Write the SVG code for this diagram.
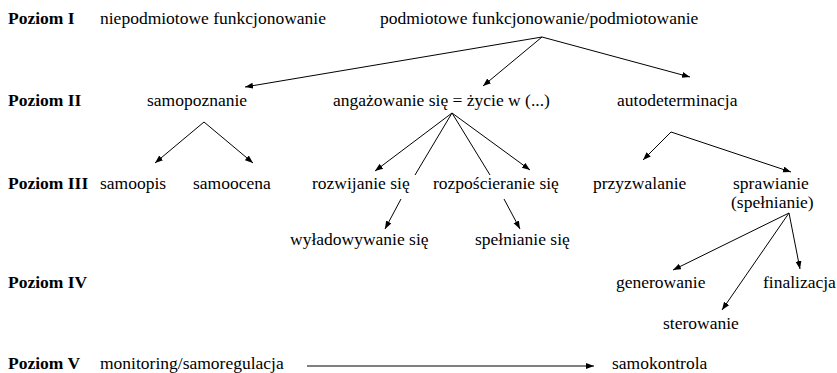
<svg xmlns="http://www.w3.org/2000/svg" width="837" height="373" viewBox="0 0 837 373">
<style>
text{font-family:'Liberation Serif','DejaVu Serif','Times New Roman',serif;font-size:17.5px;fill:#000}
.lvl{font-weight:bold}
.c line{stroke:#000;stroke-width:1;fill:none}
.a{marker-end:url(#ah)}
</style>
<defs>
<marker id="ah" markerUnits="userSpaceOnUse" markerWidth="9" markerHeight="7" refX="8" refY="3" orient="auto">
<path d="M0,0 L8,3 L0,6 z" fill="#000"/>
</marker>
</defs>
<rect width="837" height="373" fill="#fff"/>
<g id="levels" font-family="Liberation Serif, DejaVu Serif, serif">
<text class="lvl" x="8" y="24">Poziom I</text>
<text class="lvl" x="8" y="106">Poziom II</text>
<text class="lvl" x="8" y="189">Poziom III</text>
<text class="lvl" x="8" y="288">Poziom IV</text>
<text class="lvl" x="8" y="369">Poziom V</text>
</g>
<g id="n-niepodmiotowe"><text x="100" y="24">niepodmiotowe funkcjonowanie</text></g>
<g id="n-podmiotowe"><text x="380" y="24">podmiotowe funkcjonowanie/podmiotowanie</text></g>
<g id="n-samopoznanie"><text x="147" y="106">samopoznanie</text></g>
<g id="n-angazowanie"><text x="333" y="106">angażowanie się = życie w (...)</text></g>
<g id="n-autodeterminacja"><text x="617" y="106">autodeterminacja</text></g>
<g id="n-samoopis"><text x="100" y="189">samoopis</text></g>
<g id="n-samoocena"><text x="193" y="189">samoocena</text></g>
<g id="n-rozwijanie"><text x="312" y="189">rozwijanie się</text></g>
<g id="n-rozposcieranie"><text x="433" y="189">rozpościeranie się</text></g>
<g id="n-przyzwalanie"><text x="593" y="189">przyzwalanie</text></g>
<g id="n-sprawianie"><text x="733" y="189">sprawianie</text><text x="731" y="208">(spełnianie)</text></g>
<g id="n-wyladowywanie"><text x="290" y="245">wyładowywanie się</text></g>
<g id="n-spelnianie"><text x="475" y="245">spełnianie się</text></g>
<g id="n-generowanie"><text x="616" y="288">generowanie</text></g>
<g id="n-finalizacja"><text x="763" y="288">finalizacja</text></g>
<g id="n-sterowanie"><text x="663" y="329">sterowanie</text></g>
<g id="n-monitoring"><text x="100" y="369">monitoring/samoregulacja</text></g>
<g id="n-samokontrola"><text x="612" y="369">samokontrola</text></g>
<g id="connectors" class="c">
<line class="a" x1="542" y1="37" x2="245" y2="87"/>
<line class="a" x1="542" y1="37" x2="483" y2="86"/>
<line class="a" x1="542" y1="37" x2="690" y2="77"/>
<line class="a" x1="204" y1="122" x2="155" y2="163"/>
<line class="a" x1="204" y1="122" x2="253" y2="163"/>
<line class="a" x1="452" y1="113" x2="375" y2="171"/>
<line x1="452" y1="113" x2="415" y2="175"/>
<line x1="452" y1="113" x2="490" y2="175"/>
<line class="a" x1="452" y1="113" x2="530" y2="170"/>
<line class="a" x1="401" y1="199" x2="385" y2="229"/>
<line class="a" x1="504" y1="199" x2="520" y2="229"/>
<line class="a" x1="671" y1="132" x2="643" y2="160"/>
<line class="a" x1="671" y1="132" x2="791" y2="172"/>
<line class="a" x1="789" y1="213" x2="673" y2="270"/>
<line class="a" x1="789" y1="213" x2="722" y2="310"/>
<line class="a" x1="789" y1="213" x2="800" y2="269"/>
<line class="a" x1="307" y1="366" x2="594" y2="366"/>
</g>
</svg>
